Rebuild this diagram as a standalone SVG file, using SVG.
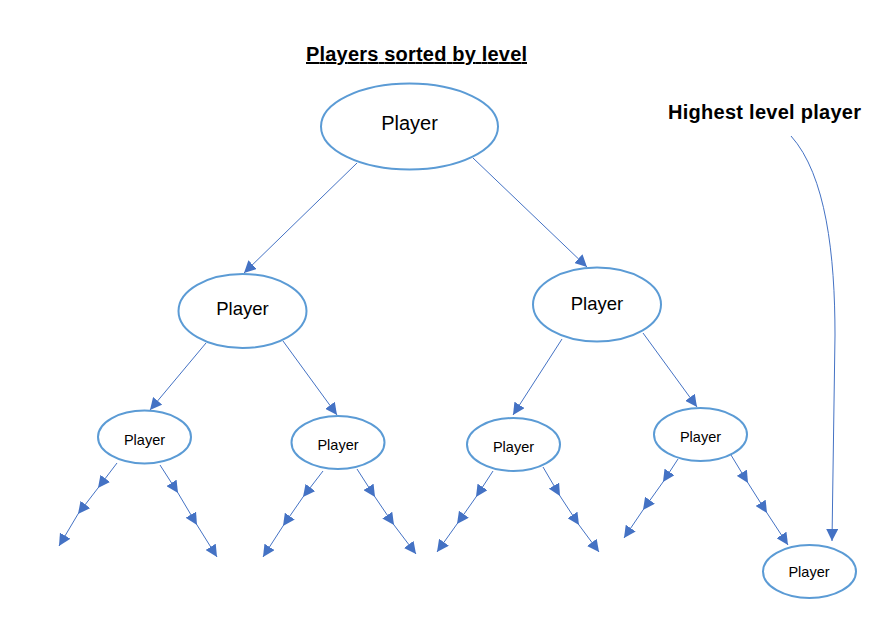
<svg xmlns="http://www.w3.org/2000/svg" width="896" height="642" viewBox="0 0 896 642">
<style>
.node ellipse{fill:#fff;stroke:#5B9BD5;stroke-width:2}
.node text{font-family:"Liberation Sans",Arial,sans-serif;fill:#000;text-anchor:middle}
.big text{font-size:20px}
.mid text{font-size:18.5px}
.small text{font-size:14.5px}
.conn path{fill:none;stroke:#4472C4;stroke-width:1;marker-end:url(#ah)}
.title{font-family:"Liberation Sans",Arial,sans-serif;font-weight:bold;font-size:20px;fill:#000}
</style>
<defs>
<marker id="ah" markerUnits="userSpaceOnUse" markerWidth="13" markerHeight="12" viewBox="0 0 13 12" refX="12" refY="6" orient="auto">
<path d="M0,0 L12,6 L0,12 Z" fill="#4472C4"/>
</marker>
</defs>
<rect width="896" height="642" fill="#fff"/>
<text class="title" x="306" y="61" textLength="221" text-decoration="underline">Players sorted by level</text>
<text class="title" x="668" y="119" textLength="193">Highest level player</text>
<g id="connectors" class="conn">
<path d="M357,163 L244,273"/>
<path d="M473,158 L587,267"/>
<path d="M206,343 L150,410"/>
<path d="M283,341 L337,415"/>
<path d="M562,339 L513,415"/>
<path d="M643,333 L697,407"/>
<path d="M117,463 L98,488"/><path d="M98,488 L78,514"/><path d="M78,514 L59,546"/>
<path d="M160,465 L178,493"/><path d="M178,493 L197,525"/><path d="M197,525 L217,557"/>
<path d="M323,471 L303,497"/><path d="M303,497 L283,526"/><path d="M283,526 L263,557"/>
<path d="M357,469 L375,497"/><path d="M375,497 L394,525"/><path d="M394,525 L416,554"/>
<path d="M493,471 L476,497"/><path d="M476,497 L457,524"/><path d="M457,524 L437,552"/>
<path d="M543,467 L560,496"/><path d="M560,496 L579,525"/><path d="M579,525 L599,552"/>
<path d="M678,459 L663,482"/><path d="M663,482 L643,510"/><path d="M643,510 L624,538"/>
<path d="M731,455 L748,483"/><path d="M748,483 L767,513"/><path d="M767,513 L788,545"/>
<path d="M791,136 C826,175 835,255 835,335 L832,541"/>
</g>
<g id="n-root" class="node big"><ellipse cx="409.5" cy="126.5" rx="88.5" ry="43"/><text x="409.5" y="130">Player</text></g>
<g id="n-left" class="node mid"><ellipse cx="242.5" cy="311" rx="64" ry="37"/><text x="242.5" y="315">Player</text></g>
<g id="n-right" class="node mid"><ellipse cx="597" cy="304.5" rx="64" ry="37"/><text x="597" y="310">Player</text></g>
<g id="n-ll" class="node small"><ellipse cx="144.5" cy="437" rx="46.5" ry="26.5"/><text x="144.5" y="445">Player</text></g>
<g id="n-lr" class="node small"><ellipse cx="338" cy="442.5" rx="46.5" ry="26.5"/><text x="338" y="450">Player</text></g>
<g id="n-rl" class="node small"><ellipse cx="513.5" cy="444.5" rx="46.5" ry="26.5"/><text x="513.5" y="451.5">Player</text></g>
<g id="n-rr" class="node small"><ellipse cx="700.5" cy="434.5" rx="46.5" ry="26.5"/><text x="700.5" y="442">Player</text></g>
<g id="n-top" class="node small"><ellipse cx="809.5" cy="571.5" rx="46.5" ry="26.5"/><text x="809" y="577">Player</text></g>
</svg>
